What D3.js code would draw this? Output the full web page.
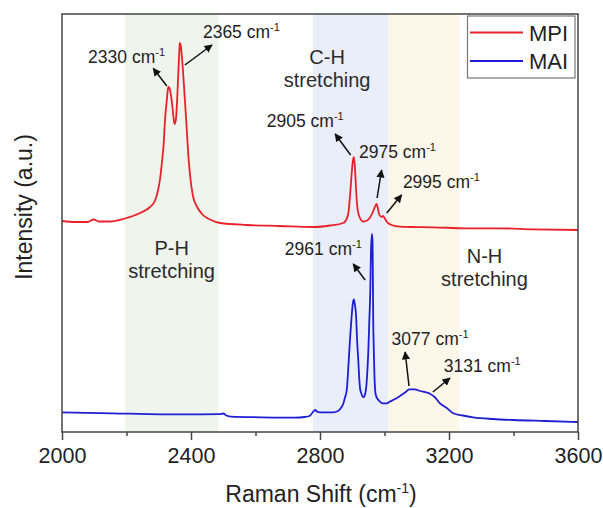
<!DOCTYPE html>
<html>
<head>
<meta charset="utf-8">
<script src="https://cdn.jsdelivr.net/npm/d3@7"></script>
<style>
  body { margin: 0; background: #fff; }
  svg { display: block; font-family: Arial, "Liberation Sans", sans-serif; }
</style>
</head>
<body>
<svg id="chart" width="603" height="508"></svg>
<script>
// Raman spectra of MPI and MAI, 2000–3600 cm-1 (intensity in arbitrary units)
const mpiShift = [2000, 2040, 2080, 2098, 2115, 2150, 2195, 2242, 2273, 2288, 2298, 2304, 2310, 2315, 2319, 2325, 2328, 2330, 2335, 2341, 2346, 2349, 2353, 2357, 2361, 2364, 2365, 2368, 2372, 2375, 2380, 2387, 2391, 2397, 2406, 2419, 2437, 2459, 2490, 2574, 2676, 2778, 2831, 2872, 2881, 2888, 2892, 2895, 2899, 2902, 2905, 2908, 2912, 2915, 2922, 2934, 2946, 2955, 2964, 2970, 2975, 2980, 2983, 2991, 2995, 3002, 3007, 3022, 3048, 3079, 3150, 3255, 3358, 3460, 3600];
const mpiIntensity = [2110, 2100, 2100, 2125, 2105, 2105, 2135, 2190, 2250, 2310, 2420, 2530, 2700, 2870, 3100, 3320, 3420, 3450, 3420, 3290, 3140, 3080, 3120, 3320, 3620, 3820, 3890, 3870, 3740, 3620, 3370, 3020, 2800, 2570, 2360, 2250, 2170, 2125, 2090, 2070, 2060, 2050, 2065, 2090, 2120, 2190, 2320, 2440, 2620, 2710, 2750, 2660, 2420, 2270, 2155, 2105, 2115, 2145, 2200, 2250, 2280, 2230, 2180, 2150, 2160, 2130, 2103, 2070, 2053, 2050, 2047, 2037, 2037, 2027, 2020];

const maiShift = [2000, 2155, 2310, 2428, 2490, 2500, 2510, 2525, 2614, 2722, 2753, 2769, 2778, 2785, 2791, 2800, 2840, 2856, 2867, 2872, 2877, 2883, 2887, 2891, 2895, 2898, 2902, 2905, 2908, 2912, 2915, 2919, 2922, 2925, 2929, 2932, 2936, 2940, 2944, 2947, 2950, 2953, 2956, 2958, 2961, 2963, 2965, 2967, 2970, 2973, 2981, 2996, 3007, 3017, 3033, 3048, 3064, 3077, 3094, 3110, 3131, 3141, 3157, 3172, 3193, 3213, 3243, 3275, 3336, 3399, 3498, 3600];
const maiIntensity = [197, 187, 177, 177, 178, 185, 165, 153, 147, 143, 150, 163, 200, 220, 203, 197, 197, 210, 250, 280, 340, 420, 600, 820, 1020, 1153, 1290, 1327, 1280, 1153, 920, 700, 520, 420, 380, 353, 350, 380, 470, 620, 820, 1120, 1420, 1790, 1980, 1900, 1120, 800, 470, 370, 320, 287, 287, 305, 330, 360, 395, 427, 427, 410, 395, 383, 345, 287, 240, 187, 165, 147, 130, 120, 110, 100];

const seriesNames = ["MPI", "MAI"];
const seriesColors = ["#e8212a", "#1e1ed2"];

// Vibrational regions
const bandNames = ["P-H", "C-H", "N-H"];
const bandStart = [2195, 2778, 3012];
const bandEnd = [2485, 3012, 3232];
const bandColors = ["#eff4ed", "#eaeef8", "#fdf7e9"];
const bandLabelShift = [2340, 2822, 3310];
const bandLabelIntensity = [1775, 3680, 1690];

// Peak annotations: label position and arrow (tail -> head), data units
const peakLabels = [2330, 2365, 2905, 2975, 2995, 2961, 3077, 3131];
const peakTextShift = [2081, 2437, 2635, 2921, 3057, 2691, 3022, 3184];
const peakTextIntensity = [3690, 3940, 3047, 2740, 2440, 1770, 870, 603];
const arrowTailShift = [2325, 2381, 2895, 2977, 3007, 2940, 3076, 3150];
const arrowTailIntensity = [3460, 3670, 2770, 2340, 2190, 1520, 460, 400];
const arrowHeadShift = [2283, 2465, 2847, 2991, 3053, 2903, 3064, 3203];
const arrowHeadIntensity = [3637, 3870, 2980, 2620, 2370, 1680, 800, 540];

const majorTicks = [2000, 2400, 2800, 3200, 3600];
const minorTicks = [2200, 2600, 3000, 3400];

const margin = { left: 62, top: 14, right: 25, bottom: 76 };
const W = 603, H = 508;
const svg = d3.select("#chart");

const x = d3.scaleLinear().domain([2000, 3600]).range([margin.left, W - margin.right]);
const y = d3.scaleLinear().domain([0, 4180]).range([H - margin.bottom, margin.top]);

// shaded regions
svg.append("g").selectAll("rect")
  .data(bandNames.map((n, i) => ({ n, s: bandStart[i], e: bandEnd[i], c: bandColors[i] })))
  .join("rect")
  .attr("x", d => x(d.s)).attr("width", d => x(d.e) - x(d.s))
  .attr("y", y.range()[1]).attr("height", y.range()[0] - y.range()[1])
  .attr("fill", d => d.c);

// region labels
const bandG = svg.append("g").attr("fill", "#2b2b2b").attr("font-size", 20).attr("text-anchor", "middle");
bandNames.forEach((n, i) => {
  const t = bandG.append("text")
    .attr("x", x(bandLabelShift[i])).attr("y", y(bandLabelIntensity[i]));
  t.append("tspan").attr("x", x(bandLabelShift[i])).text(n);
  t.append("tspan").attr("x", x(bandLabelShift[i])).attr("dy", 23).text("stretching");
});

// spectra
const line = d3.line().x(d => x(d[0])).y(d => y(d[1])).curve(d3.curveMonotoneX);
const spectra = [
  mpiShift.map((s, i) => [s, mpiIntensity[i]]),
  maiShift.map((s, i) => [s, maiIntensity[i]])
];
svg.append("g").selectAll("path")
  .data(spectra)
  .join("path")
  .attr("d", line)
  .attr("fill", "none")
  .attr("stroke", (d, i) => seriesColors[i])
  .attr("stroke-width", 1.8)
  .attr("stroke-linejoin", "round");

// arrowhead marker
svg.append("defs").append("marker")
  .attr("id", "arrowhead")
  .attr("viewBox", "0 0 10 10")
  .attr("refX", 9).attr("refY", 5)
  .attr("markerWidth", 5.5).attr("markerHeight", 5.5)
  .attr("markerUnits", "strokeWidth")
  .attr("orient", "auto")
  .append("path").attr("d", "M0,0 L10,5 L0,10 z").attr("fill", "#111");

// peak annotations
const ann = svg.append("g");
peakLabels.forEach((p, i) => {
  ann.append("line")
    .attr("x1", x(arrowTailShift[i])).attr("y1", y(arrowTailIntensity[i]))
    .attr("x2", x(arrowHeadShift[i])).attr("y2", y(arrowHeadIntensity[i]))
    .attr("stroke", "#111").attr("stroke-width", 1.5)
    .attr("marker-end", "url(#arrowhead)");
  const t = ann.append("text")
    .attr("x", x(peakTextShift[i])).attr("y", y(peakTextIntensity[i]))
    .attr("font-size", 17.5).attr("fill", "#222");
  t.append("tspan").text(p + " cm");
  t.append("tspan").attr("font-size", 11).attr("dy", -7).text("-1");
});

// x axis: major and minor ticks
const axisG = svg.append("g").attr("transform", `translate(0,${y(0)})`);
axisG.call(d3.axisBottom(x).tickValues(majorTicks).tickSize(8).tickPadding(8).tickFormat(d3.format("d")))
  .call(g => g.select(".domain").remove())
  .call(g => g.selectAll("line").attr("stroke", "#444").attr("stroke-width", 1.5))
  .call(g => g.selectAll("text").attr("font-size", 21.5).attr("fill", "#222")
    .attr("font-family", "Arial, 'Liberation Sans', sans-serif"));
svg.append("g").attr("transform", `translate(0,${y(0)})`)
  .call(d3.axisBottom(x).tickValues(minorTicks).tickSize(4).tickFormat(""))
  .call(g => g.select(".domain").remove())
  .call(g => g.selectAll("line").attr("stroke", "#444").attr("stroke-width", 1.5));

// plot frame
svg.append("rect")
  .attr("x", x.range()[0]).attr("y", y.range()[1])
  .attr("width", x.range()[1] - x.range()[0]).attr("height", y.range()[0] - y.range()[1])
  .attr("fill", "none").attr("stroke", "#444").attr("stroke-width", 1.5);

// axis titles
const xt = svg.append("text")
  .attr("x", (x.range()[0] + x.range()[1]) / 2 + 1).attr("y", 502)
  .attr("text-anchor", "middle").attr("font-size", 23).attr("fill", "#222");
xt.append("tspan").text("Raman Shift (cm");
xt.append("tspan").attr("font-size", 14).attr("dy", -9).text("-1");
xt.append("tspan").attr("dy", 9).text(")");

svg.append("text")
  .attr("transform", "translate(32,207) rotate(-90)")
  .attr("text-anchor", "middle").attr("font-size", 23).attr("fill", "#222")
  .text("Intensity (a.u.)");

// legend
const lg = svg.append("g");
lg.append("rect").attr("x", 467.5).attr("y", 16).attr("width", 107.5).attr("height", 62)
  .attr("fill", "#fff").attr("stroke", "#777").attr("stroke-width", 1.2);
seriesNames.forEach((n, i) => {
  const yy = 32.5 + i * 28.5;
  lg.append("line").attr("x1", 470).attr("x2", 523).attr("y1", yy).attr("y2", yy)
    .attr("stroke", seriesColors[i]).attr("stroke-width", 2);
  lg.append("text").attr("x", 529).attr("y", yy + 8.3)
    .attr("font-size", 22).attr("fill", "#222").text(n);
});
</script>
</body>
</html>
